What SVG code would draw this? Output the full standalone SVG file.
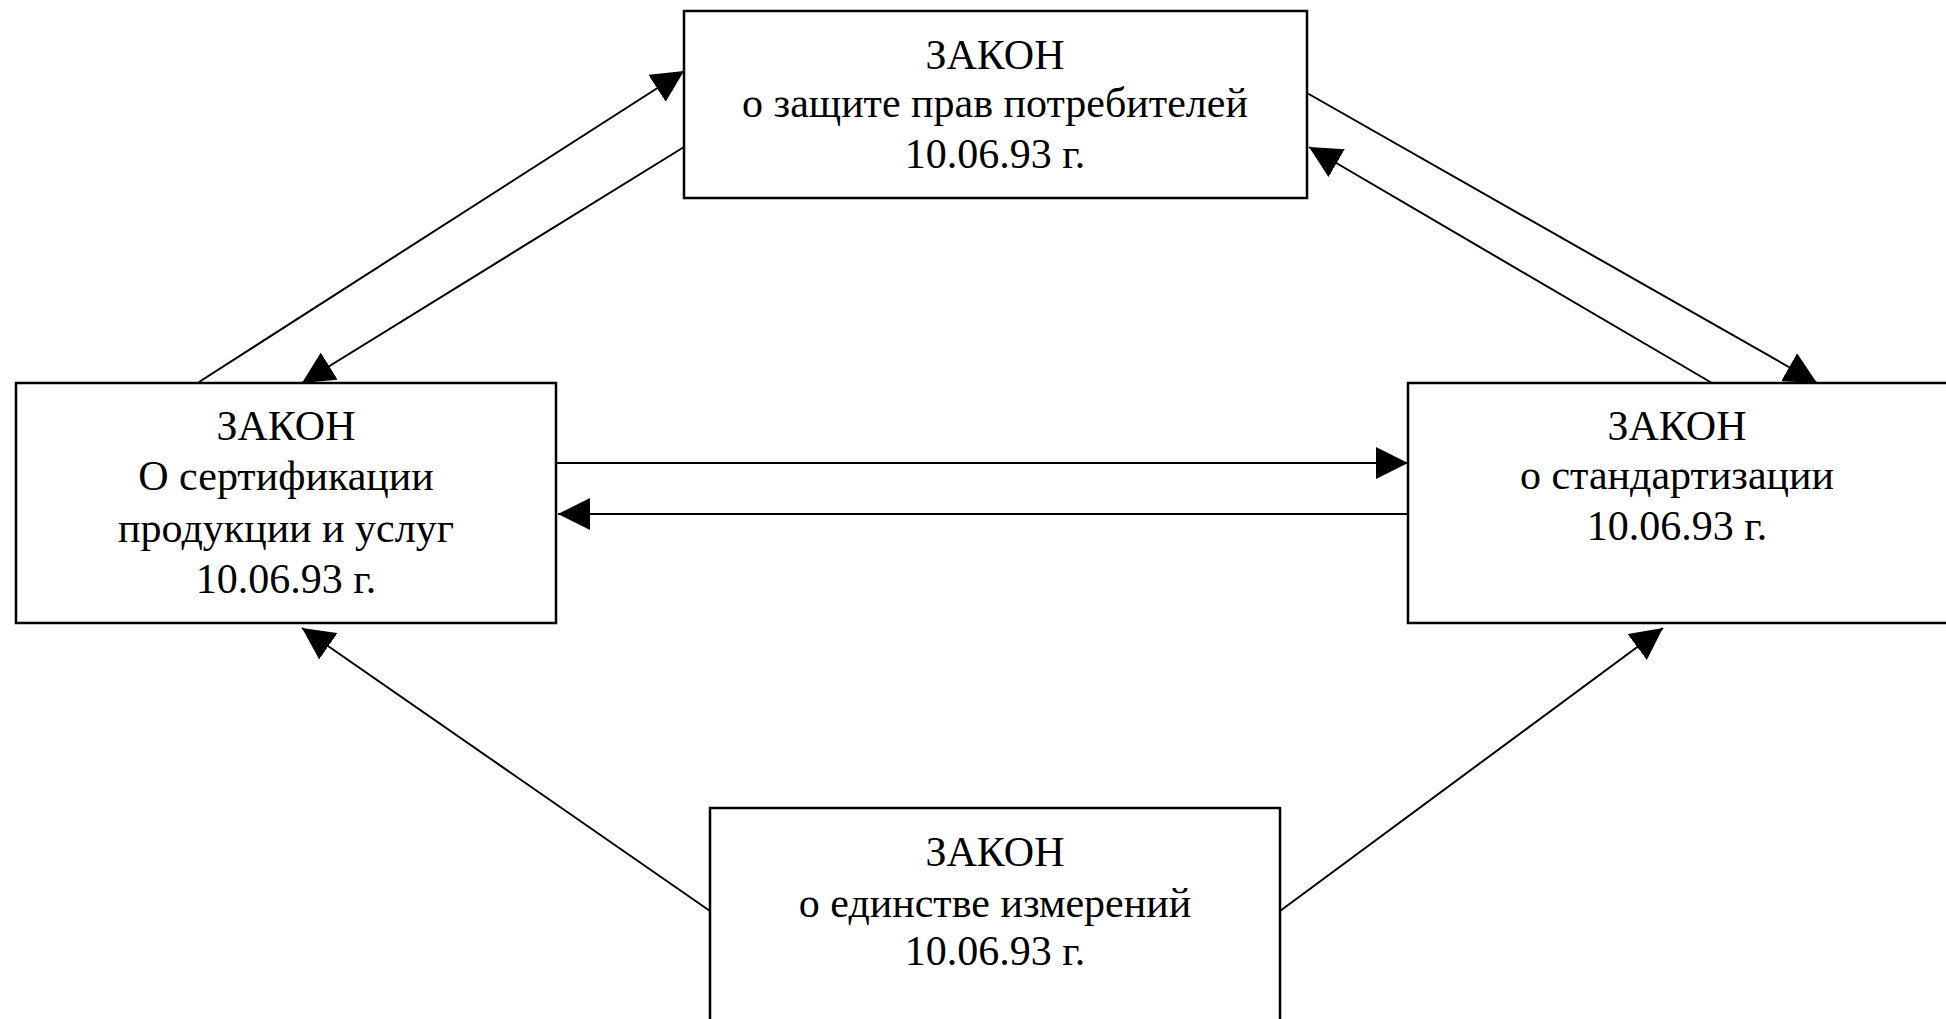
<svg xmlns="http://www.w3.org/2000/svg" width="1946" height="1019" viewBox="0 0 1946 1019">
<style>
.box{fill:#fff;stroke:#000;stroke-width:2.5}
.t{font-family:"Liberation Serif","Times New Roman",serif;font-size:42px;fill:#000;text-anchor:middle}
.c{fill:none;stroke:#000;stroke-width:2;marker-end:url(#ah)}
</style>
<defs>
<marker id="ah" markerUnits="userSpaceOnUse" markerWidth="32" markerHeight="32" refX="32" refY="16" orient="auto" viewBox="0 0 32 32">
<path d="M0,0 L32,16 L0,32 z" fill="#000"/>
</marker>
</defs>
<rect width="1946" height="1019" fill="#fff"/>
<g id="connectors">
<line class="c" x1="199" y1="382" x2="684" y2="71"/>
<line class="c" x1="684" y1="147" x2="302" y2="383"/>
<line class="c" x1="1307" y1="93" x2="1817" y2="383"/>
<line class="c" x1="1712" y1="383" x2="1309" y2="147"/>
<line class="c" x1="556" y1="463" x2="1408" y2="463"/>
<line class="c" x1="1408" y1="514" x2="558" y2="514"/>
<line class="c" x1="710" y1="911" x2="302" y2="628"/>
<line class="c" x1="1280" y1="911" x2="1663" y2="628"/>
</g>
<g id="node-consumers">
<rect class="box" x="684" y="11" width="623" height="187"/>
<text class="t" x="995" y="69">ЗАКОН</text>
<text class="t" x="995" y="117">о защите прав потребителей</text>
<text class="t" x="995" y="168">10.06.93 г.</text>
</g>
<g id="node-certification">
<rect class="box" x="16" y="383" width="540" height="240"/>
<text class="t" x="286" y="440">ЗАКОН</text>
<text class="t" x="286" y="490">О сертификации</text>
<text class="t" x="286" y="542">продукции и услуг</text>
<text class="t" x="286" y="593">10.06.93 г.</text>
</g>
<g id="node-standardization">
<rect class="box" x="1408" y="383" width="546" height="240"/>
<text class="t" x="1677" y="440">ЗАКОН</text>
<text class="t" x="1677" y="489">о стандартизации</text>
<text class="t" x="1677" y="540">10.06.93 г.</text>
</g>
<g id="node-measurement">
<rect class="box" x="710" y="808" width="570" height="220"/>
<text class="t" x="995" y="866">ЗАКОН</text>
<text class="t" x="995" y="917">о единстве измерений</text>
<text class="t" x="995" y="965">10.06.93 г.</text>
</g>
</svg>
